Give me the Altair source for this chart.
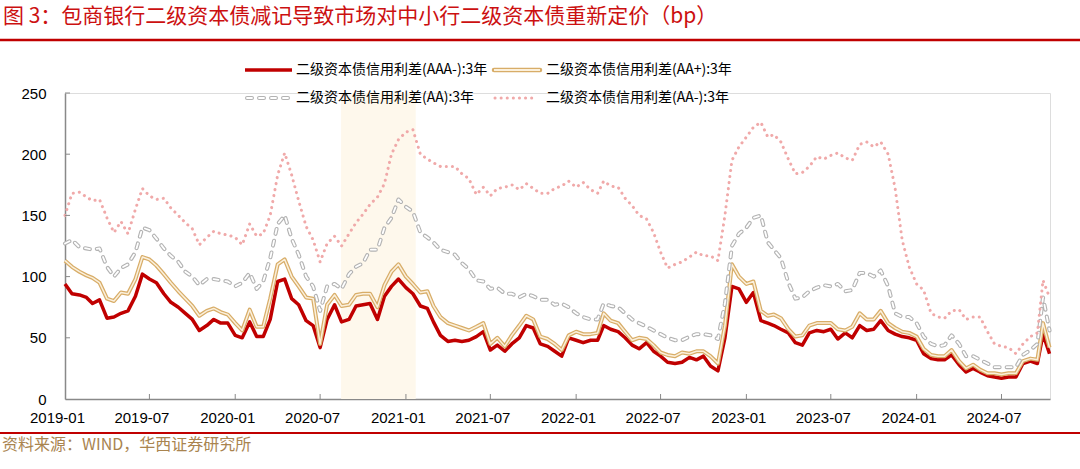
import altair as alt
import pandas as pd

# ---------------- data ----------------
dates = []
for yr in range(2019, 2025):
    for mo in range(1, 13):
        if (yr, mo) <= (2024, 9):
            dates.append(f"{yr}-{mo:02d}-01")
            dates.append(f"{yr}-{mo:02d}-16")
dates += ["2024-09-28", "2024-10-12"]

aaa_minus = [
    94, 86, 85, 83, 78, 81, 66, 67, 70, 72,
    84, 102, 98, 95, 86, 79, 75, 70, 65, 56,
    60, 65, 62, 62, 52, 50, 63, 51, 51, 65,
    96, 98, 82, 77, 64, 60, 42, 65, 77, 63,
    65, 76, 77, 78, 65, 84, 92, 98, 91, 86,
    76, 74, 63, 52, 47, 48, 47, 48, 51, 55,
    40, 44, 39, 45, 50, 60, 58, 45, 43, 39,
    35, 50, 48, 46, 48, 48, 60, 57, 55, 50,
    44, 41, 46, 39, 35, 30, 29, 30, 34, 32,
    35, 27, 23, 50, 92, 90, 79, 87, 64, 62,
    60, 57, 54, 46, 44, 54, 56, 55, 57, 49,
    54, 50, 60, 56, 57, 64, 56, 53, 51, 50,
    48, 37, 33, 32, 32, 36, 28, 22, 25, 22,
    19, 18, 17, 18, 18, 29, 31, 29,
    53, 37,
]
aa_plus = [
    113, 108, 104, 101, 99, 95, 82, 80, 87, 86,
    98, 116, 114, 109, 102, 95, 88, 82, 76, 68,
    72, 74, 71, 69, 62, 56, 73, 59, 59, 82,
    110, 114, 100, 92, 83, 82, 45, 77, 85, 76,
    77, 85, 86, 86, 75, 93, 104, 110, 100, 94,
    87, 88, 76, 67, 62, 60, 58, 56, 59, 62,
    45, 50, 43, 52, 60, 68, 65, 51, 49, 45,
    40, 52, 55, 53, 53, 54, 70, 64, 62, 55,
    48, 50, 49, 44, 38, 36, 35, 38, 37, 39,
    39, 35, 29, 60, 110, 100, 94, 96, 72, 68,
    69, 66, 57, 51, 52, 60, 62, 62, 62, 57,
    56, 59, 70, 65, 65, 72, 62, 58, 55, 54,
    51, 41, 36, 35, 35, 40, 31, 25, 28, 24,
    21, 21, 20, 21, 21, 31, 33, 32,
    62, 42,
]
aa = [
    127, 130, 124, 123, 122, 123, 108, 100, 107, 110,
    120, 140, 138, 131, 123, 117, 112, 104, 100, 93,
    98, 98, 97, 96, 92, 95, 103, 90, 96, 115,
    143, 150, 131, 118, 100, 92, 72, 92, 94, 90,
    102, 108, 111, 122, 122, 140, 148, 163, 157, 153,
    136, 132, 128, 122, 120, 118, 111, 106, 97, 96,
    90, 91, 86, 86, 83, 86, 84, 81, 81, 77,
    78, 75, 70, 67, 65, 65, 78, 76, 75, 70,
    65, 62, 59, 56, 53, 50, 48, 48, 51, 53,
    53, 52, 49, 78, 125, 135, 140, 148, 150, 128,
    122, 115, 95, 82, 83, 88, 91, 93, 92, 94,
    88, 89, 103, 103, 100, 105, 92, 70, 67, 67,
    62, 51, 45, 43, 44, 52, 45, 35, 35, 32,
    29, 26, 26, 26, 26, 36, 40, 45,
    83, 56,
]
aa_minus = [
    150, 168, 169, 165, 162, 163, 148, 136, 145, 135,
    155, 172, 166, 163, 164, 156, 150, 144, 139, 126,
    132, 137, 135, 134, 132, 126, 143, 133, 135, 150,
    183, 201, 183, 162, 141, 130, 112, 127, 133, 125,
    135, 144, 151, 159, 165, 176, 200, 212, 218, 220,
    200, 196, 193, 190, 190, 190, 184, 180, 167, 173,
    166, 172, 173, 175, 171, 176, 172, 168, 168, 172,
    174, 178, 173, 177, 171, 168, 178, 174, 173, 164,
    158, 150, 147, 136, 120, 107, 110, 112, 116, 120,
    117, 117, 113, 150, 195, 206, 214, 222, 226, 214,
    216, 210, 196, 184, 185, 190, 198, 196, 199, 201,
    197, 195, 208, 210, 206, 210, 200, 172, 130, 108,
    94, 89, 70, 67, 66, 72, 73, 65, 67, 67,
    55, 45, 43, 42, 37, 45, 51, 54,
    97, 83,
]

names = [
    "二级资本债信用利差(AAA-):3年",
    "二级资本债信用利差(AA+):3年",
    "二级资本债信用利差(AA):3年",
    "二级资本债信用利差(AA-):3年",
]
tick_dates = ["2019-01-01", "2019-07-01", "2020-01-01", "2020-07-01", "2021-01-01",
              "2021-07-01", "2022-01-01", "2022-07-01", "2023-01-01", "2023-07-01",
              "2024-01-01", "2024-07-01"]
y_ticks = [0, 50, 100, 150, 200, 250]
shade_start = ["2020-08-15"]
shade_end = ["2021-01-22"]

title_text = "图 3：包商银行二级资本债减记导致市场对中小行二级资本债重新定价（bp）"
source_text = "资料来源：WIND，华西证券研究所"

# ---------------- chart ----------------
W, H = 985, 306
AXIS_GRAY = "#898989"
CJK = "Noto Sans CJK SC"
LAT = "Liberation Sans"

def dt(s):
    return alt.DateTime(year=int(s[:4]), month=int(s[5:7]), date=int(s[8:10]), utc=True)

xscale = alt.Scale(type="utc", domain=[dt("2019-01-01"), dt("2024-10-13")])
yscale = alt.Scale(domain=[0, 250], nice=False, zero=True)

X = alt.X("date:T", scale=xscale,
          axis=alt.Axis(values=[dt(s) for s in tick_dates], format="%Y-%m", title=None,
                        grid=False, ticks=False, labelAngle=0, labelFont=LAT, labelFontSize=15,
                        labelColor="#000000", labelPadding=11, labelOffset=-8,
                        labelFlush=False, labelOverlap=False, labelBound=False,
                        domainColor=AXIS_GRAY, domainWidth=1.5))
Y = alt.Y("v:Q", scale=yscale,
          axis=alt.Axis(values=y_ticks, title=None, grid=False, ticks=False,
                        labelFont=LAT, labelFontSize=15, labelColor="#000000",
                        labelPadding=19, labelFlush=False, labelOverlap=False,
                        domainColor=AXIS_GRAY, domainWidth=1.5))

def frame(vals):
    return pd.DataFrame({"date": dates, "v": vals})

# shaded period
shade = alt.Chart(pd.DataFrame({"date": shade_start, "date2": shade_end})).mark_rect(
    color="#fef8ec").encode(x=X, x2="date2:T", y=alt.value(0), y2=alt.value(H))

def line(vals, **kw):
    return alt.Chart(frame(vals)).mark_line(strokeJoin="round", **kw).encode(x=X, y=Y)

red = line(aaa_minus, color="#c00000", strokeWidth=3.5)
tan_o = line(aa_plus, color="#d8ad68", strokeWidth=4)
tan_i = line(aa_plus, color="#fbf0dc", strokeWidth=1.5)
gray_o = line(aa, color="#b3b3b3", strokeWidth=4, strokeDash=[5, 7], strokeCap="round")
gray_i = line(aa, color="#ffffff", strokeWidth=1.8, strokeDash=[5, 7], strokeCap="round")
pink = line(aa_minus, color="#f0a9a9", strokeWidth=3, strokeDash=[0.1, 6], strokeCap="round")

# inward tick marks
ytick_df = pd.DataFrame({"v": y_ticks[1:]})
yticks = alt.Chart(ytick_df).mark_rule(color=AXIS_GRAY, strokeWidth=1).encode(
    y=Y, x=alt.value(0), x2=alt.value(5))
xtick_df = pd.DataFrame({"date": tick_dates[1:]})
xticks = alt.Chart(xtick_df).mark_rule(color=AXIS_GRAY, strokeWidth=1).encode(
    x=X, y=alt.value(H - 5), y2=alt.value(H))

# custom legend
def legend_item(label, x0, x1, y, strokes, tx):
    d = pd.DataFrame({"t": [label]})
    out = []
    for kw in strokes:
        out.append(alt.Chart(d).mark_rule(**kw).encode(
            x=alt.value(x0), x2=alt.value(x1), y=alt.value(y)))
    out.append(alt.Chart(d).mark_text(align="left", baseline="middle", font=CJK,
                                      fontSize=14, color="#000000").encode(
        x=alt.value(tx), y=alt.value(y), text="t:N"))
    return out

leg = []
leg += legend_item(names[0], 180, 227, -23, [dict(color="#c00000", strokeWidth=3.5)], 231)
leg += legend_item(names[1], 429, 475, -23, [dict(color="#d8ad68", strokeWidth=4.5, strokeCap="round"),
                                             dict(color="#fbf0dc", strokeWidth=1.8)], 481)
leg += legend_item(names[2], 182, 224, 5, [dict(color="#b3b3b3", strokeWidth=4, strokeDash=[5, 7], strokeCap="round"),
                                           dict(color="#ffffff", strokeWidth=1.8, strokeDash=[5, 7], strokeCap="round")], 231)
leg += legend_item(names[3], 430, 472, 5, [dict(color="#f0a9a9", strokeWidth=3, strokeDash=[0.1, 6], strokeCap="round")], 481)

# title, separators and source
tdf = pd.DataFrame({"t": [title_text]})
title = alt.Chart(tdf).mark_text(align="left", baseline="middle", font=CJK, fontSize=21,
                                 color="#cc1010").encode(x=alt.value(-62), y=alt.value(-76), text="t:N")
top_rule = alt.Chart(tdf).mark_rule(color="#c00000", strokeWidth=2.5).encode(
    x=alt.value(-65), x2=alt.value(1015), y=alt.value(-53))
bot_rule = alt.Chart(tdf).mark_rule(color="#c00000", strokeWidth=2).encode(
    x=alt.value(-65), x2=alt.value(1015), y=alt.value(340))
sdf = pd.DataFrame({"t": [source_text]})
source = alt.Chart(sdf).mark_text(align="left", baseline="middle", font=CJK, fontSize=16,
                                  color="#a9844f").encode(x=alt.value(-63), y=alt.value(352), text="t:N")

chart = alt.layer(
    shade, red, tan_o, tan_i, gray_o, gray_i, pink, yticks, xticks,
    *leg, title, top_rule, bot_rule, source
).properties(
    width=W, height=H,
    padding={"left": 65, "top": 93, "right": 30, "bottom": 70},
    autosize=alt.AutoSizeParams(type="none"),
).configure_view(strokeWidth=0).configure(background="#ffffff")

chart.save("out.html", embed_options={"renderer": "svg", "actions": False})
